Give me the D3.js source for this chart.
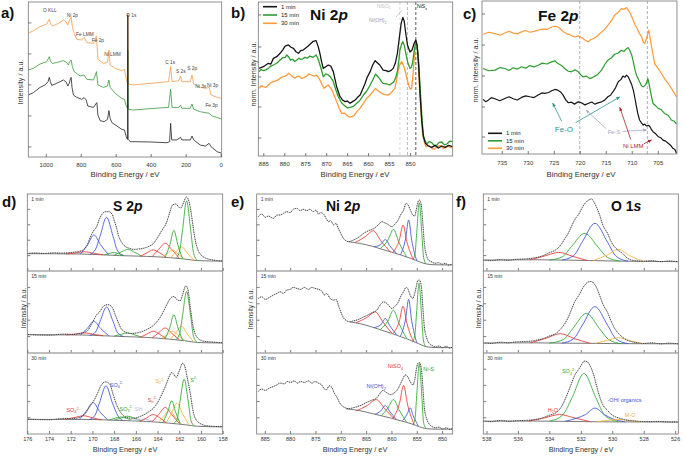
<!DOCTYPE html>
<html><head><meta charset="utf-8">
<script src="https://cdn.jsdelivr.net/npm/d3@7/dist/d3.min.js"></script>
<style>body{margin:0;background:#fff}</style>
</head><body>
<script>
// ---------- data (binding energy eV, normalised intensity) ----------
const surveyBlack = [[1100,40],[1071,41.5],[1033,44.9],[1004,46.5],[987,48.6],[980,51.4],[974,48.6],[966,46.2],[947,47.1],[918,48.6],[899,49.7],[884,48.4],[874,45.8],[866,47.5],[859,50.5],[855,51.4],[850,44.9],[842,40],[823,38.5],[794,37.2],[781,38.3],[769,36.8],[760,32.9],[727,32],[714,34.2],[708,35.1],[702,27.1],[689,23.4],[666,22.8],[647,24.3],[639,29.9],[632,24.9],[622,22.2],[593,20],[565,17.8],[550,17.4],[540,13.1],[533,11.4],[531,91.6],[529,11.4],[517,9.9],[403,9.7],[307,9.2],[292,9.9],[286,21.7],[280,11],[250,11],[229,12.7],[222,11],[174,11],[164,13.5],[154,11],[116,7.7],[87,7.1],[66,8.8],[55,6.7],[20,3.4],[-6,2.4]];
const surveyGreen = [[1100,56.1],[1071,57.2],[1033,60],[995,61.5],[980,64.7],[972,61.5],[961,60.4],[938,60.9],[899,62.2],[880,60.9],[871,59.4],[863,61.5],[855,62.6],[848,58.3],[838,55.1],[804,52.3],[781,52.9],[765,50.1],[727,49.7],[710,55.1],[702,46.5],[670,44.9],[647,45.8],[639,49.7],[632,44.9],[603,41.1],[565,37.8],[550,37.2],[540,32.9],[533,31.4],[531,69],[528,30.8],[498,30.3],[403,31.2],[298,32],[286,43.7],[278,32],[240,32],[229,33.5],[222,31.4],[174,31.4],[164,34.2],[154,30.8],[116,29.2],[66,28.2],[49,26.5],[-6,24.5]];
const surveyOrange = [[1100,79.8],[1071,81.5],[1033,84.1],[995,85.8],[980,88.8],[972,85.8],[961,84.5],[928,86.2],[899,88.4],[884,87.3],[874,85.2],[865,88],[855,90.1],[848,84.1],[838,79.8],[823,75.9],[794,75.5],[781,77.2],[765,73.8],[727,73.3],[710,78.1],[702,63],[670,60.4],[647,60.9],[639,69],[632,59.4],[603,57.2],[565,55.7],[550,56.6],[540,50.8],[533,47.5],[531,92.7],[528,47.1],[498,46.5],[403,47.5],[298,48.6],[286,58.3],[278,48.6],[240,49.2],[229,52.3],[222,48.6],[174,48.6],[164,52.9],[154,47.1],[116,44.9],[87,44.3],[66,44.9],[55,40],[20,38.5],[-6,37.8]];
const surveyPeaks = [["O KLL",1016,93.5],["Ni 2p",880,90.3],["Fe LMM",827,78],["Fe 2p",737,74.2],["Ni LMM",666,65.2],["O 1s",540,90.3],["C 1s",317,60],["S 2s",255,54.2],["S 2p",191,56.1],["Ni 3s",145,44.5],["Ni 3p",78,45.2],["Fe 3p",87,32.3]];

const ni1min = [[886,56.9],[885,58],[884.4,59.1],[883.8,60.2],[883.2,59.7],[882.6,63.4],[881.8,64.5],[881,66.7],[880.4,68.8],[879.8,71.4],[879,72.1],[878.4,70.6],[877.8,69.9],[877.2,67.7],[876.6,66.7],[876.1,68.4],[875.5,68.8],[874.8,70.3],[874.3,71.4],[873.6,73.2],[873.1,74.5],[872.4,74.9],[871.9,71],[871.5,66.7],[871.1,61.3],[870.7,56.9],[870.1,58],[869.5,59.1],[868.9,58.4],[868.3,54.8],[867.5,45],[866.7,38.5],[866.1,36.4],[865.5,35.3],[865,35.7],[864.3,34.2],[863.7,35.3],[863.1,36.4],[862.5,38.1],[861.9,39.6],[861.3,43.3],[860.7,47.2],[860.2,51.1],[859.5,54.8],[858.9,59.1],[858.3,61.9],[857.8,60.6],[857.2,59.1],[856.4,55.8],[855.7,55.4],[855.2,54.8],[854.6,55.4],[854,56.9],[853.5,60.2],[853,66.7],[852.5,77.5],[852.1,86.1],[851.7,90],[851.4,87.9],[851,79.7],[850.6,72.1],[850,67.5],[849.5,68.8],[849,73.2],[848.6,75.3],[848.3,72.1],[847.9,58],[847.6,40.7],[847.2,23.4],[846.8,12.6],[846.3,8.2],[845.6,6.5],[844.8,5.6],[844,6.9],[843.2,5.2],[842.4,6.5],[841.6,5.6],[840.8,6.9],[839.8,6.1]];
const ni15min = [[886,54.8],[885.5,56.2],[885,55.4],[884.4,55.9],[883.8,56.9],[883.2,58.4],[882.6,59.1],[881.8,60.2],[881,62.3],[880.4,63.8],[879.8,64.1],[879.4,65.6],[879,64.5],[878.5,62.3],[878,62.8],[877.5,61.4],[877,62.3],[876.5,63.4],[876.1,62.8],[875.6,63],[875.1,64.1],[874.5,63.5],[873.9,64.9],[873.1,64.1],[872.4,65.6],[872,63.4],[871.6,60.2],[871.1,55.7],[870.7,51.5],[870.1,53.3],[869.5,52.6],[868.9,51.1],[868.3,48.3],[867.7,43],[867.1,38.5],[866.3,34.4],[865.5,32.5],[864.9,31.2],[864.3,31.6],[863.5,32.2],[862.7,34.2],[861.9,36.3],[861.1,39.6],[860.3,42.2],[859.5,46.1],[858.8,49.8],[858.2,53.2],[857.7,51.6],[857.3,50.4],[856.8,48.3],[856.4,47.2],[855.6,46.8],[854.8,46.1],[854.3,47.3],[853.8,48.3],[853.4,51],[853,54.8],[852.7,61],[852.4,68.8],[852,72.5],[851.7,74.2],[851.3,71.5],[851,66.7],[850.5,60.5],[850,56.9],[849.7,57.5],[849.4,60.2],[849,68],[848.6,74.9],[848.3,71.5],[848,64.5],[847.7,50.3],[847.4,36.4],[847.1,23],[846.8,13.6],[846.4,9.8],[846,7.8],[845.4,9.4],[844.8,8.7],[844.2,6.8],[843.6,7.1],[843,8.9],[842.4,9.1],[841.8,7.2],[841.2,7.8],[840.5,9.6],[839.8,9.3]];
const ni30min = [[886,43.9],[885.5,45.7],[885,45],[884.4,44.5],[883.8,46.1],[883.2,47.6],[882.6,48.3],[881.8,48.9],[881,50.4],[880.4,51.5],[879.8,51.9],[879.4,52.3],[879,53.7],[878.5,52.8],[878,51.5],[877.5,50.5],[877,51.5],[876.4,51.9],[875.9,50.4],[875.3,50.9],[874.7,51.9],[874.1,53.3],[873.5,52.6],[872.9,51.8],[872.4,52.6],[871.9,51.3],[871.5,49.4],[871,46.4],[870.5,43.9],[870,45.3],[869.5,46.1],[869.1,44.7],[868.7,43.3],[868.1,39.5],[867.5,35.3],[866.9,31],[866.3,27.7],[865.7,27.9],[865.1,26.6],[864.5,25.2],[863.9,25.5],[863.3,26.4],[862.7,28.8],[861.9,31.1],[861.1,34.2],[860.3,37.5],[859.5,39.6],[858.8,42],[858.2,43.9],[857.5,42.1],[856.8,40.7],[856,39.9],[855.2,39.6],[854.4,41.3],[853.6,43.9],[853.2,49],[852.8,55.8],[852.4,59.3],[852,61.3],[851.6,59.2],[851.2,55.8],[850.7,50],[850.2,45],[849.9,43.4],[849.6,43.9],[849.3,52],[849,62.3],[848.8,69],[848.6,74.2],[848.4,72.5],[848.2,68.8],[847.9,53],[847.6,38.5],[847.3,25.5],[847,14.7],[846.6,9.4],[846.2,6.1],[845.5,6.9],[844.8,5],[844.2,4.4],[843.6,6.1],[842.8,6.8],[842,4.8],[841,6.3],[839.8,5.2]];
const niRefLines = [852.4, 850.6, 848.6];

const fe1min = [[738.6,35.7],[738.1,34.2],[737.6,35.2],[737,36.8],[736.3,36.1],[735.4,34.8],[734.4,36.3],[733.6,37.4],[732.8,36.1],[732,35.3],[731.2,37],[730.4,38],[729.6,37.4],[728.8,36.9],[728,38.5],[727.3,39.9],[726.7,39.6],[726,40.2],[725.4,41.3],[724.8,42.2],[724.2,41.7],[723.7,40.6],[723.2,38.5],[722.7,35.4],[722.2,33.5],[721.6,33.9],[721,32.6],[720.3,34.1],[719.7,33.5],[719,32.1],[718.4,33],[717.7,34],[717.1,32.6],[716.5,33.4],[715.8,34.1],[715.2,35.2],[714.6,37.4],[714.1,38.4],[713.6,40.7],[713.1,43.4],[712.6,47.2],[712.1,48.6],[711.7,50.9],[711.3,50.2],[711,51.5],[710.7,50.6],[710.4,48.3],[710,45.2],[709.7,41.7],[709.4,36.6],[709.1,30.9],[708.8,25.9],[708.5,22.2],[708.1,20.2],[707.8,18.9],[707.5,19.6],[707.2,18.3],[706.8,18.8],[706.5,17.8],[706.2,15.9],[705.9,14.6],[705.4,13.2],[704.9,11.3],[704.4,10.6],[704,9.1],[703.5,8.4],[703,7],[702.5,5.6],[702.1,3.7],[701.7,2.9],[701.4,0.4]];
const fe15min = [[738.6,55.9],[737.5,54.4],[736.3,54.8],[735.3,56.5],[734.4,55.9],[733.6,54.6],[732.8,56.4],[732,55.5],[731.2,57],[730.4,56.1],[729.6,57.8],[728.8,56.9],[728,58],[727.2,59.4],[726.3,58.8],[725.4,60.2],[724.8,60.9],[724.2,59.1],[723.5,57.9],[722.9,55.9],[722.2,54.1],[721.6,53.7],[720.9,55],[720.3,53.7],[719.8,51.8],[719.4,50.4],[718.7,50.9],[718.1,49.3],[717.6,49.9],[717.1,50.9],[716.5,52.2],[715.8,54.8],[715.2,58.5],[714.6,61.3],[713.9,62.9],[713.3,65.2],[712.6,66],[712,67.8],[711.5,67],[711,68.9],[710.7,69.5],[710.4,67.8],[710,64.6],[709.7,60.2],[709.4,55.4],[709.1,51.5],[708.8,49.6],[708.5,47.2],[708.1,44.5],[707.8,43.9],[707.5,44.7],[707.2,46.1],[706.9,49.3],[706.7,46.2],[706.5,42.8],[706.2,37.4],[705.9,33],[705.4,31.5],[704.9,29.8],[704.3,28.9],[703.7,26.5],[703,25.3],[702.4,22.2],[701.9,21.6],[701.4,19.6]];
const fe30min = [[738.6,78.3],[737.5,79.6],[736.3,78.7],[735.3,77.6],[734.4,79.1],[733.6,80.2],[732.8,79],[732,78.5],[731.2,79.8],[730.4,80.7],[729.6,79.6],[728.8,80.2],[728,80.9],[727.2,81.6],[726.3,81.4],[725.4,83],[724.8,83.5],[724.3,83.2],[723.8,82],[723.2,80.1],[722.6,78.7],[721.8,77.8],[721,76.5],[720.3,77.2],[719.7,76.1],[719,74.5],[718.4,73.3],[717.9,74.8],[717.4,75.4],[716.6,77.1],[715.8,79.8],[715.2,81.5],[714.6,84.1],[713.9,87.2],[713.3,90.7],[712.6,92.6],[712,95],[711.5,94.5],[711,95.7],[710.7,94.1],[710.4,92.8],[710,89.7],[709.7,87.4],[709.4,84.6],[709.1,83],[708.6,79.3],[708.1,76.5],[707.8,73.2],[707.5,72.2],[707.2,75.2],[707,77.6],[706.7,80.9],[706.5,76.3],[706.3,72.2],[705.9,65],[705.6,59.1],[705,56.3],[704.3,52.6],[703.6,48.8],[703,46.1],[702.2,42.1],[701.4,37.4]];
const feRefLines = [720, 707];

// S 2p fits
const s2p1Data = [[176,22.9],[175.2,23.3],[174.4,22.8],[173.6,23.6],[172.8,23.2],[172,24],[171.4,25],[170.9,27],[170.5,33],[170.2,44],[169.9,52],[169.6,58],[169.4,66],[169.1,74],[168.8,77],[168.5,77],[168.2,74],[168,66],[167.8,57],[167.6,46],[167.3,37],[167,32],[166.6,29.5],[166.2,28],[165.8,28.5],[165.3,29.5],[164.8,32],[164.4,35.5],[164.1,41],[163.8,48],[163.5,55],[163.2,62],[162.9,75],[162.6,86],[162.3,87],[162.05,83],[161.85,82],[161.6,89],[161.35,96],[161.1,90],[160.9,75],[160.7,55],[160.5,38],[160.3,28],[160,21],[159.6,17],[159,14.5],[158.5,13.5],[158,13]];
const s2p1Bg = [[176,22.5],[171,22],[169,21],[167.5,20],[165,19],[163,17.5],[161.5,15.5],[160.3,13.5],[158,12.8]];
const s2p1Peaks = [
 ["SO4b",[[172.4,22.2],[171.5,23.5],[170.7,25],[169.9,23],[169,21]]],
 ["SO4a",[[171.1,22],[170.45,34],[169.86,46.8],[169.25,34],[168.5,20.8]]],
 ["SO4a",[[170.25,21.4],[169.72,28],[169.3,45],[168.7,69.7],[168.1,45],[167.68,26],[167.15,20]]],
 ["SO3",[[168.9,21],[168.4,23],[168,24],[167.6,22.5],[167.1,20.2]]],
 ["SO3",[[168,20.7],[167.3,25],[166.75,28],[166.2,25],[165.5,19.6]]],
 ["Sn",[[165.6,19.1],[165,23.5],[164.4,27.3],[163.8,23.5],[163.2,17.8]]],
 ["Sn",[[164.5,18.6],[163.9,28],[163.3,36],[162.7,28],[162,16.6]]],
 ["S2",[[163.6,18],[163.1,23],[162.6,27],[162.1,22],[161.5,15.5]]],
 ["S2",[[162.8,17.2],[162.3,25],[161.8,31.6],[161.3,24],[160.7,14.5]]],
 ["S",[[163.3,17.8],[162.85,35],[162.5,53],[162.15,35],[161.7,16]]],
 ["S",[[162.3,16.7],[161.97,26],[161.7,53],[161.33,91],[160.95,53],[160.69,24],[160.35,13.8]]]];
const s2p2Data = [[175.9,22.6],[175,22],[173.9,21.8],[173,22.8],[172.4,23],[171.8,22.6],[171.2,23.8],[170.5,26.6],[170.1,34.7],[169.6,46.8],[169.3,50.8],[169,56.9],[168.6,58.9],[168.2,56],[167.9,46.8],[167.6,36.7],[167.3,28.6],[166.5,23.8],[165.6,25.4],[165,28.6],[164.4,33.5],[163.8,42.7],[163.3,54.8],[163,62.9],[162.7,68.1],[162.5,69],[162.2,64.9],[161.9,63.7],[161.7,71],[161.4,81.9],[161.2,77],[161,56.9],[160.7,30.6],[160.4,19.8],[159.8,14.5],[158.9,13.3],[158,12.5]];
const s2p2Bg = [[176,22.3],[171,22],[169,21],[167,20],[165,19],[163,17],[161.5,15],[160.3,12.8],[158,12.2]];
const s2p2Peaks = [
 ["SO4b",[[172.4,22.1],[171.5,23.2],[170.7,24.6],[169.9,22.8],[169,21]]],
 ["SO4a",[[171.1,22],[170.45,30.3],[169.86,38.7],[169.25,30],[168.5,21]]],
 ["SO4a",[[170.25,21.2],[169.72,25.5],[169.3,38.5],[168.7,56],[168.1,38.5],[167.68,24.5],[167.15,20.2]]],
 ["SO3",[[168,20.6],[167.3,23],[166.75,24.5],[166.2,22.5],[165.5,19.5]]],
 ["Sn",[[165.6,19],[165,23],[164.4,26.6],[163.8,22.8],[163.2,17.5]]],
 ["Sn",[[164.5,18.4],[163.9,24.5],[163.3,30.6],[162.7,24],[162,16.3]]],
 ["S2",[[163.6,17.8],[163.1,22],[162.6,26.6],[162.1,21.5],[161.5,15.5]]],
 ["S2",[[162.8,17],[162.3,25],[161.8,32.7],[161.3,24],[160.7,14]]],
 ["S",[[163.3,17.5],[162.85,32],[162.5,46.8],[162.15,32],[161.7,15.7]]],
 ["S",[[162.3,16.3],[161.97,23.5],[161.7,45.5],[161.33,75],[160.95,45],[160.69,20.5],[160.35,13]]]];
const s2p3Data = [[175.9,18.4],[175,17.8],[173.9,17.6],[173,18.8],[172.4,19.3],[171.8,18.9],[171.2,20.5],[170.7,24.6],[170.2,34.8],[169.8,43],[169.5,51.2],[169.2,60.2],[168.8,64.3],[168.4,61.5],[168.1,49.2],[167.8,36.9],[167.4,26.6],[166.9,20.5],[166.2,19.3],[165.6,21.7],[164.9,26.6],[164.2,34.8],[163.6,49.2],[163.2,61.5],[162.9,71.7],[162.7,75.8],[162.5,73.8],[162.3,69.7],[162,77.9],[161.7,87.3],[161.5,84],[161.3,71.7],[161,51.2],[160.7,26.6],[160.3,15.2],[159.5,10.2],[158.8,9.4],[158,9]];
const s2p3Bg = [[176,18],[171,18],[169,17.5],[167,16.5],[165,15.5],[163,13.5],[161.5,11.5],[160.3,9.5],[158,8.8]];
const s2p3Peaks = [
 ["SO4b",[[172.5,18],[171.6,20.5],[170.8,22.5],[170,20],[169.2,17.5]]],
 ["SO4a",[[171.2,18],[170.55,28.5],[169.95,38.9],[169.35,28],[168.6,17.5]]],
 ["SO4a",[[170.3,17.7],[169.77,23],[169.35,38.5],[168.75,59.4],[168.15,38],[167.63,22],[167.2,16.8]]],
 ["SO3",[[168.5,17],[167.9,19.5],[167.4,21],[166.9,19.5],[166.3,16.5]]],
 ["SO3",[[168,17],[167.3,20],[166.8,22],[166.2,20],[165.5,16.2]]],
 ["SH",[[166.5,16.5],[165.9,17.8],[165.4,18.6],[164.9,17.5],[164.3,15.5]]],
 ["Sn",[[165.6,15.5],[165,20],[164.4,24],[163.8,20],[163.2,14]]],
 ["Sn",[[164.5,15],[163.9,24],[163.3,32.8],[162.7,24],[162,13]]],
 ["S2",[[163.9,14.5],[163.4,22],[162.9,30],[162.4,21],[161.8,12.5]]],
 ["S2",[[163.2,13.8],[162.7,26],[162.2,38],[161.7,25],[161.1,11]]],
 ["S",[[163.5,14.2],[163.05,28],[162.7,41],[162.35,27.5],[161.9,12.3]]],
 ["S",[[162.5,13.2],[162.19,18.5],[161.93,40.5],[161.55,67.6],[161.17,39.5],[160.91,16],[160.6,10]]]];
const s2pNames = [["SO4b",172.4,27.5],["SO4a",168.4,58.4],["SO3",167.5,28.8],["SH",166.1,28.8],["Sn",164.9,39.9],["S2",164.2,63.3],["S",161,64.6]];

// Ni 2p fits
const ni2p1Data = [[886.3,70.6],[885.6,74],[884.9,69.7],[884.3,71.4],[883.3,68.4],[882.6,72.7],[882,72.7],[881.3,74.9],[880.7,77.1],[880,75.8],[879.4,80.1],[878.7,81.4],[878,78.4],[877.4,80.1],[876.7,78.4],[876.1,80.1],[875.4,77.1],[874.9,79.2],[874.4,74],[874,75.8],[873.4,74],[872.9,68.4],[872.4,64.1],[872,65.4],[871.4,59.7],[870.9,61.9],[870.5,55.4],[870,48.9],[869.5,42.4],[869,39.4],[868.4,38.1],[867.8,39.4],[867.2,41.1],[866.3,44.6],[865.5,48.9],[864.9,51.1],[864.2,53.2],[863.4,55.4],[862.6,59.7],[861.9,64.1],[861.4,62.8],[860.8,61],[859.9,57.6],[859.3,61],[858.6,67.1],[858.2,72.7],[857.6,79.2],[857.1,87.9],[856.7,85.7],[856.3,80.1],[855.8,72.7],[855.4,71.4],[855.1,79.2],[854.8,88.7],[854.5,92.2],[854.1,85.7],[853.8,61.9],[853.5,35.9],[853.1,20.8],[852.7,14.3],[852,11.7],[851.4,10],[850.7,10.8],[850,8.7],[849.4,10],[848.7,7.8],[847.9,9.1]];
const ni2p1Bg = [[868.5,38],[866,35.5],[864,32.5],[862,28.5],[860,24.5],[858,20.5],[856,16],[854.5,12],[853,9],[851,8],[848,7.8]];
const ni2p1Peaks = [
 ["NiSO4",[[867.2,37],[865.1,44.8],[863.6,52.4],[862.1,39.2],[860.2,24.5]]],
 ["NiOH",[[863.4,31.5],[862.1,34.5],[861.2,41],[860.3,32.5],[859,23]]],
 ["NiS",[[862.2,29],[860.7,40],[859.6,54],[858.5,37],[857,18.5]]],
 ["NiSO4",[[859.7,24.5],[858.45,40],[857.7,59.7],[856.95,38],[855.7,15.3]]],
 ["NiOH",[[858.2,21],[857.2,42],[856.6,66.2],[856,40],[855,13.3]]],
 ["NiS",[[855.8,14.7],[855.35,22],[855,50],[854.5,88.7],[854,49],[853.65,18],[853.2,9.3]]]];
const ni2p2Data = [[886.3,66.5],[885.6,68.6],[884.9,65.3],[884.1,67.8],[883.3,70.6],[882.6,72.7],[882,74.7],[881.3,72.7],[880.7,76.7],[880,77.6],[879.4,80],[878.7,78.8],[877.9,77.6],[877.2,80],[876.4,77.6],[875.7,80],[875.1,78.8],[874.4,77.6],[873.8,75.9],[873.2,70.6],[872.8,72.7],[872.1,66.5],[871.4,64.5],[870.9,65.3],[870.5,58.4],[870,50.2],[869.5,43.3],[868.8,39.2],[868.2,38],[867.5,39.2],[866.5,40.8],[865.5,44.1],[864.7,46.1],[863.9,49],[862.9,52.2],[862.1,59.6],[861.6,62.4],[860.9,60.4],[859.9,54.3],[859.3,57.1],[858.6,62.4],[858.2,68.6],[857.6,74.7],[857.1,80],[856.7,77.6],[856.3,70.6],[855.8,66.5],[855.4,72.7],[855.1,80.8],[854.8,88.2],[854.5,89],[854.1,81.6],[853.8,56.3],[853.5,31.8],[853,17.6],[852.5,11.4],[851.9,9],[851.2,7.3],[850.6,8.6],[849.9,6.5],[849.2,8.2],[848.5,6.1],[847.9,7.3]];
const ni2p2Bg = [[868.2,38],[866,35.5],[864,32],[862,28],[860,24],[858,19.5],[856,15],[854.5,11],[853,7.5],[851,6.6],[848,6.5]];
const ni2p2Peaks = [
 ["NiSO4",[[867,36.8],[864.8,43.5],[863.2,50.2],[861.7,38],[859.9,23.8]]],
 ["NiOH",[[863.4,31],[862.1,34.5],[861.2,42],[860.3,33],[859,22.5]]],
 ["NiS",[[862.2,28.5],[860.7,39],[859.6,52.2],[858.5,36],[857,18]]],
 ["NiSO4",[[859.7,24],[858.45,38.5],[857.7,57],[856.95,36.5],[855.7,14.3]]],
 ["NiOH",[[858.2,20.5],[857.2,41.5],[856.6,65.3],[856,39.5],[855,12.4]]],
 ["NiS",[[855.85,13.8],[855.4,20.5],[855.05,47.5],[854.55,85],[854.05,46],[853.7,16.5],[853.25,8]]]];
const ni2p3Data = [[886.3,52.6],[885.6,55.5],[884.9,53.8],[884.1,56.7],[883.3,58.7],[882.6,60.7],[882,62.8],[881.2,61.9],[880.5,64.8],[879.9,63.6],[879.2,65.6],[878.6,62.8],[877.9,64.8],[877.2,63.6],[876.4,65.6],[875.7,62.8],[875.1,64.8],[874.4,62.8],[873.8,60.7],[873.2,55.5],[872.8,54.7],[872.3,59.5],[871.8,57.9],[871.3,50.6],[870.8,45.7],[870.3,39.3],[869.8,35.2],[869.1,32.4],[868.5,31.2],[867.8,32],[866.8,33.6],[865.8,36],[864.8,39.3],[863.9,41.7],[862.9,44.5],[862.2,50.6],[861.7,53.8],[861,51.4],[860.2,48.6],[859.5,50.6],[858.8,54.7],[858.3,60.7],[857.7,68.8],[857.3,72.9],[856.8,70.9],[856.3,64.8],[855.8,60.7],[855.4,66.8],[855.1,78.9],[854.8,87],[854.5,88.3],[854.1,81],[853.8,58.7],[853.5,32.4],[853,18.2],[852.5,12.1],[851.9,8.9],[851.2,7.7],[850.6,8.5],[849.9,6.1],[849.2,7.7],[848.5,5.7],[847.9,6.9]];
const ni2p3Bg = [[869,31.2],[866,28.5],[864,25.5],[862,22.5],[860,19.5],[858,16],[856,12.5],[854.5,9],[853,6.5],[851,6],[848,6]];
const ni2p3Peaks = [
 ["NiSO4",[[867,28.5],[864.8,35],[863,42.5],[861.3,31],[859.5,19]]],
 ["NiOH",[[863.2,24.5],[862.1,28.5],[861.2,35.2],[860.3,27.5],[859,18]]],
 ["NiS",[[862,22.5],[860.7,32],[859.6,42.5],[858.5,30],[857,14.5]]],
 ["NiSO4",[[859.7,19.2],[858.4,38],[857.6,60],[856.8,36],[855.5,11.5]]],
 ["NiOH",[[857.8,16.5],[856.9,24.5],[856.3,32.4],[855.7,22.5],[854.7,10]]],
 ["NiS",[[855.8,11.3],[855.35,18.5],[855,48],[854.5,87],[854,47],[853.65,14.5],[853.2,7]]]];
const ni2pNames = [["NiOH",864.9,56.4],["NiSO4",860.7,81.1],["NiS",853.7,78.1]];

// O 1s fits
const o1s1Data = [[538.2,14.3],[537.7,13.4],[537.1,14.7],[536.6,13.9],[536.1,15.2],[535.5,15.6],[535,16.9],[534.6,18.6],[534.3,20.8],[534,23.8],[533.6,27.3],[533.4,30.7],[533.2,35.9],[533,42.4],[532.8,48.9],[532.6,57.6],[532.4,66.2],[532.1,74.9],[531.9,82.7],[531.7,88.7],[531.5,92.2],[531.3,93.5],[531.2,90.9],[531,82.7],[530.8,72.7],[530.6,59.7],[530.3,48.9],[530.1,39.4],[529.9,32.5],[529.7,28.1],[529.5,25.1],[529.3,22.1],[529.1,17.7],[528.8,14.3],[528.4,13],[528,12.6],[527.5,13.4],[526.9,12.1],[526.4,13],[525.8,12.1]];
const o1s1Bg = [[538.2,14.2],[535,14.6],[533,14.2],[531.5,13.6],[530,13],[528,12.5],[525.8,12.1]];
const o1s1Peaks = [
 ["H2O",[[535.2,14.6],[534.3,19.5],[533.4,24.2],[532.5,19],[531.6,13.7]]],
 ["SO4",[[534,14.3],[533.2,18],[532.6,31.5],[531.75,48.9],[530.9,31],[530.3,17.5],[529.5,12.9]]],
 ["OH",[[533.2,14.2],[532.45,20],[531.9,38],[531.1,61.9],[530.3,37.5],[529.75,19],[529,12.7]]],
 ["MO",[[531.2,13.6],[530.3,21],[529.6,28.1],[528.9,20],[528,12.5]]]];
const o1s2Data = [[538.2,12.4],[537.7,11.6],[537.1,13.2],[536.6,12.4],[536.1,13.6],[535.5,14],[535,14.9],[534.6,16.5],[534.3,18.2],[534,20.7],[533.6,23.6],[533.4,26.9],[533.2,31],[533,36.4],[532.8,43.4],[532.6,52.5],[532.4,62],[532.1,71.1],[531.9,78.5],[531.7,83.9],[531.5,86.8],[531.3,87.2],[531.2,85.5],[531,79.8],[530.8,70.2],[530.6,59.9],[530.3,49.6],[530.1,40.1],[529.9,31.8],[529.7,26],[529.5,21.9],[529.3,18.6],[529.1,16.1],[528.8,14],[528.4,12.4],[528,11.6],[527.5,12.4],[526.9,11.2],[526.4,12],[525.8,11.2]];
const o1s2Bg = [[538.2,12.2],[535,12.4],[533,12],[531.5,11.8],[530,11.5],[528,11.3],[525.8,11.2]];
const o1s2Peaks = [
 ["H2O",[[535.2,12.4],[534.2,18],[533.3,23.6],[532.4,17.5],[531.4,11.8]]],
 ["SO4",[[534,12.1],[533.1,16.5],[532.5,30],[531.65,48.3],[530.8,29.5],[530.2,16],[529.4,11.4]]],
 ["OH",[[533.2,12],[532.45,17.5],[531.9,34],[531.1,56.6],[530.3,34],[529.75,17],[529,11.4]]],
 ["MO",[[531.1,11.7],[530.3,15.5],[529.6,18.6],[528.9,15],[528,11.3]]]];
const o1s3Data = [[538.2,16],[537.7,15.2],[537.1,16.8],[536.6,15.6],[536.1,16.4],[535.5,16.8],[535,17.6],[534.6,18.8],[534.3,20.8],[534,23.2],[533.6,26],[533.4,29.2],[533.2,34.8],[533,42.8],[532.8,52],[532.6,62],[532.4,72],[532.1,80.8],[531.9,87.2],[531.8,90],[531.6,89.2],[531.4,84],[531.2,74],[531,60],[530.8,46],[530.6,36],[530.3,29.2],[530.1,24.8],[529.8,21.2],[529.5,19.2],[529.2,17.6],[528.8,16.4],[528.3,15.6],[527.7,15.2],[527.1,15.6],[526.4,14.8],[525.8,14.8]];
const o1s3Bg = [[538.2,15.8],[535,16],[533,15.6],[531.5,15.2],[530,15],[528,14.9],[525.8,14.8]];
const o1s3Peaks = [
 ["H2O",[[535.3,16],[534.3,20],[533.35,24],[532.4,19.8],[531.4,15.2]]],
 ["SO4",[[534,15.8],[533.15,23.5],[532.55,45],[531.8,74.8],[531.05,45],[530.45,22.5],[529.6,15]]],
 ["OH",[[533,15.6],[532.2,20],[531.7,24],[531.1,32],[530.5,24],[530,19],[529.2,15]]],
 ["MO",[[531,15.1],[530.3,16.8],[529.6,18],[528.9,16.6],[528.1,14.9]]]];
const o1sNames = [["SO4",533.2,75],["OH",530.3,39.9],["H2O",534.1,27.5],["MO",529.2,21.4]];

const times = ["1 min", "15 min", "30 min"];
const ticksSurvey = [1000, 800, 600, 400, 200, 0];
const ticksNi = [885, 880, 875, 870, 865, 860, 855, 850];
const ticksFe = [735, 730, 725, 720, 715, 710, 705];
const ticksS = [176, 174, 172, 170, 168, 166, 164, 162, 160, 158];
const ticksO = [538, 536, 534, 532, 530, 528, 526];

// ---------- styling ----------
const FONT = "'Liberation Sans', Arial, sans-serif";
const timeColor = ["#151515", "#2e9c2e", "#ff9a3a"];
const blue = "#3c50d4", red = "#e8372f", green = "#2ea62e", orng = "#f4b03c", lav = "#b6bde8";
const speciesColor = {SO4a: blue, SO4b: red, SO3: green, SH: lav, Sn: red, S2: orng, S: green,
  NiSO4: red, NiOH: blue, NiS: green, H2O: red, SO4: green, OH: blue, MO: orng};
const speciesLabel = {
  SO4b: ["SO", ["4","sub"], ["2-","sup"]], SO4a: ["SO", ["4","sub"], ["2-","sup"]],
  SO3: ["SO", ["3","sub"], ["2-","sup"]], SH: ["SH"], Sn: ["S", ["n","sub"], ["2-","sup"]],
  S2: ["S", ["2","sub"], ["2-","sup"]], S: ["S", ["2-","sup"]],
  NiOH: ["Ni(OH)", ["2","sub"]], NiSO4: ["NiSO", ["4","sub"]], NiS: ["Ni-S"],
  SO4: ["SO", ["4","sub"], ["2-","sup"]], OH: ["-OH/ organics"], H2O: ["H", ["2","sub"], "O"], MO: ["M-O"]};

const svg = d3.select("body").append("svg").attr("width", 685).attr("height", 456)
  .style("font-family", FONT);
const defs = svg.append("defs");
let clipN = 0;

function rich(g, x, y, parts, size, color, opts) {
  opts = opts || {};
  const t = g.append("text").attr("x", x).attr("y", y).attr("font-size", size).attr("fill", color)
    .attr("text-anchor", opts.anchor || "start").attr("font-weight", opts.bold ? "bold" : null);
  let off = 0;
  parts.forEach(p => {
    const s = typeof p === "string" ? p : p[0], k = typeof p === "string" ? "n" : p[1];
    const target = k === "sub" ? 0.3 * size : k === "sup" ? -0.4 * size : 0;
    const ts = t.append("tspan").text(s);
    if (target - off !== 0) ts.attr("dy", target - off);
    if (k === "sub" || k === "sup") ts.attr("font-size", size * 0.68);
    if (k === "i") ts.attr("font-style", "italic");
    off = target;
  });
  return t;
}

function plotArea(x0, x1, y0, y1, xDom, yDom) {
  const id = "clip" + (clipN++);
  defs.append("clipPath").attr("id", id).append("rect")
    .attr("x", x0).attr("y", y0).attr("width", x1 - x0).attr("height", y1 - y0);
  return {
    x: d3.scaleLinear().domain(xDom).range([x0, x1]),
    y: d3.scaleLinear().domain(yDom || [0, 100]).range([y1, y0]),
    g: svg.append("g").attr("clip-path", "url(#" + id + ")"),
    x0, x1, y0, y1
  };
}

function path(p, data, color, w, curve, dash) {
  p.g.append("path").datum(data).attr("fill", "none").attr("stroke", color).attr("stroke-width", w)
    .attr("stroke-dasharray", dash || null).attr("stroke-linejoin", "round")
    .attr("d", d3.line().x(d => p.x(d[0])).y(d => p.y(d[1])).curve(curve || d3.curveLinear));
}

function xAxis(p, ticks, size, pad, showLabels) {
  const ax = svg.append("g").attr("transform", "translate(0," + p.y1 + ")")
    .call(d3.axisBottom(p.x).tickValues(ticks).tickSize(-3).tickPadding(pad)
      .tickFormat(showLabels ? d3.format("d") : () => ""));
  ax.select(".domain").remove();
  ax.selectAll("line").attr("stroke", "#444").attr("stroke-width", 0.7);
  ax.selectAll("text").attr("font-size", size).attr("fill", "#333").attr("font-family", FONT);
}

function yTicks(p, vals) {
  svg.append("g").selectAll("line").data(vals).join("line")
    .attr("x1", p.x0).attr("x2", p.x0 + 3).attr("y1", d => p.y(d)).attr("y2", d => p.y(d))
    .attr("stroke", "#444").attr("stroke-width", 0.7);
}

function frame(p, color) {
  svg.append("rect").attr("x", p.x0).attr("y", p.y0).attr("width", p.x1 - p.x0).attr("height", p.y1 - p.y0)
    .attr("fill", "none").attr("stroke", color || "#777").attr("stroke-width", 0.8);
}

function yTitle(x, y, str, size) {
  svg.append("text").attr("transform", "translate(" + x + "," + y + ") rotate(-90)")
    .attr("text-anchor", "middle").attr("font-size", size).attr("fill", "#333").text(str);
}
function xTitle(x, y, size) {
  svg.append("text").attr("x", x).attr("y", y).attr("text-anchor", "middle")
    .attr("font-size", size).attr("fill", "#333").text("Binding Energy / eV");
}
function letter(x, y, s) {
  svg.append("text").attr("x", x).attr("y", y).attr("font-size", 15).attr("font-weight", "bold")
    .attr("fill", "#111").text(s);
}
function title(x, y, parts, size) {
  rich(svg, x, y, parts, size, "#111", {bold: true});
}

function arrowMarker(id, color) {
  defs.append("marker").attr("id", id).attr("viewBox", "0 0 10 10").attr("refX", 9).attr("refY", 5)
    .attr("markerWidth", 5).attr("markerHeight", 5).attr("orient", "auto")
    .append("path").attr("d", "M0,1L10,5L0,9z").attr("fill", color);
}
function arrow(p, a, b, color, id) {
  svg.append("line").attr("x1", p.x(a[0])).attr("y1", p.y(a[1])).attr("x2", p.x(b[0])).attr("y2", p.y(b[1]))
    .attr("stroke", color).attr("stroke-width", 0.8).attr("marker-end", "url(#" + id + ")");
}

// ---------- a) survey ----------
const pa = plotArea(28.3, 221.7, 2, 157, [1100, -6]);
path(pa, surveyOrange, "#f59a48", 0.8);
path(pa, surveyGreen, "#3a9a3a", 0.8);
path(pa, surveyBlack, "#222", 0.8);
surveyPeaks.forEach(d => svg.append("text").attr("x", pa.x(d[1])).attr("y", pa.y(d[2]))
  .attr("font-size", 4.8).attr("fill", "#444").text(d[0]));
frame(pa);
xAxis(pa, ticksSurvey, 6, 6.2, true);
yTicks(pa, [6.5, 26.5, 46.5, 66.5, 86.5]);
yTitle(23, 82, "Intensity / a.u.", 7.2);
xTitle(125, 177, 7.8);
letter(1, 18, "a)");

// ---------- b) Ni 2p ----------
const pb = plotArea(258.3, 452.7, 2, 156, [886.2, 839.8]);
const refCol = ["#cfcfcf", "#a8a8a8", "#333"];
niRefLines.forEach((e, i) => pb.g.append("line").attr("x1", pb.x(e)).attr("x2", pb.x(e))
  .attr("y1", pb.y0).attr("y2", pb.y1).attr("stroke", refCol[i]).attr("stroke-width", 0.8)
  .attr("stroke-dasharray", "3,2"));
path(pb, ni30min, timeColor[2], 1.3);
path(pb, ni15min, timeColor[1], 1.3);
path(pb, ni1min, timeColor[0], 1.3);
rich(svg, pb.x(857.9), pb.y(96.4), ["NiSO", ["4","sub"]], 5, "#c4c4c4");
rich(svg, pb.x(859.8), pb.y(87), ["Ni(OH)", ["2","sub"]], 5, "#999");
rich(svg, pb.x(848.3), pb.y(96.1), ["NiS", ["x","sub"]], 5, "#111");
svg.append("line").attr("x1", pb.x(853.3)).attr("y1", pb.y(90.3)).attr("x2", pb.x(851.9)).attr("y2", pb.y(94.8))
  .attr("stroke", "#aaa").attr("stroke-width", 0.6);
frame(pb);
xAxis(pb, ticksNi, 6, 6.2, true);
yTicks(pb, [11.7, 31.8, 51.3, 70.8, 91.6]);
yTitle(256, 74, "norm. Intensity / a.u.", 7.2);
xTitle(355, 177, 7.8);
letter(231, 18, "b)");
title(310, 19.5, ["Ni 2", ["p", "i"]], 15.5);
times.forEach((t, i) => {
  const yy = 6.7 + i * 8.3;
  svg.append("line").attr("x1", 263).attr("x2", 277).attr("y1", yy).attr("y2", yy)
    .attr("stroke", timeColor[i]).attr("stroke-width", 1.6);
  svg.append("text").attr("x", 281).attr("y", yy + 2.1).attr("font-size", 6).attr("fill", "#222").text(t);
});

// ---------- c) Fe 2p ----------
const pc = plotArea(482, 677, 1, 154, [738.8, 701.3]);
feRefLines.forEach(e => pc.g.append("line").attr("x1", pc.x(e)).attr("x2", pc.x(e))
  .attr("y1", pc.y0).attr("y2", pc.y1).attr("stroke", "#9a9ab0").attr("stroke-width", 0.8)
  .attr("stroke-dasharray", "3,2"));
path(pc, fe30min, timeColor[2], 1.2);
path(pc, fe15min, timeColor[1], 1.2);
path(pc, fe1min, timeColor[0], 1.2);
const teal = "#2f9484", gl = "#a7a7c8", dr = "#a82424";
arrowMarker("mTeal", teal); arrowMarker("mLav", gl); arrowMarker("mRed", dr);
arrow(pc, [723.5, 21.5], [725.2, 33.3], teal, "mTeal");
arrow(pc, [720.8, 20.5], [712.3, 37.3], teal, "mTeal");
arrow(pc, [714.9, 16.5], [718.8, 28.8], gl, "mLav");
arrow(pc, [711.8, 14.8], [707.1, 15.7], gl, "mLav");
arrow(pc, [710.2, 9.5], [712.3, 30.5], dr, "mRed");
arrow(pc, [707.7, 6.6], [706.2, 9.2], dr, "mRed");
svg.append("text").attr("x", pc.x(724.8)).attr("y", pc.y(14.5)).attr("font-size", 8).attr("fill", teal).text("Fe-O");
svg.append("text").attr("x", pc.x(714.6)).attr("y", pc.y(13)).attr("font-size", 5.8).attr("fill", gl).text("Fe-S");
svg.append("text").attr("x", pc.x(711.7)).attr("y", pc.y(4.2)).attr("font-size", 6).attr("fill", dr).text("Ni LMM");
frame(pc);
xAxis(pc, ticksFe, 6, 6.8, true);
yTicks(pc, [11.1, 30.7, 51, 71.2, 91.5]);
yTitle(478, 70, "norm. Intensity / a.u.", 7.2);
xTitle(581, 177, 7.8);
letter(463, 19, "c)");
title(538, 20.5, ["Fe 2", ["p", "i"]], 15.5);
times.forEach((t, i) => {
  const yy = 133.3 + i * 7.5;
  svg.append("line").attr("x1", 488).attr("x2", 502).attr("y1", yy).attr("y2", yy)
    .attr("stroke", timeColor[i]).attr("stroke-width", 1.6);
  svg.append("text").attr("x", 506).attr("y", yy + 2.1).attr("font-size", 6).attr("fill", "#222").text(t);
});

// ---------- d) e) f) fitted spectra ----------
const subY = [[194, 271], [271, 353], [353, 434]];
function fitPanel(x0, x1, xDom, ticks, subs, names) {
  const ps = subs.map((s, i) => {
    const p = plotArea(x0, x1, subY[i][0], subY[i][1], xDom);
    path(p, s[1], "#555", 0.8, d3.curveMonotoneX);
    s[2].forEach(c => path(p, c[1], speciesColor[c[0]], 0.85, d3.curveMonotoneX));
    path(p, s[0], "#8c8c8c", 0.6, d3.curveMonotoneX);
    path(p, s[0], "#1a1a1a", 1.0, d3.curveMonotoneX, "0.7,1.6");
    svg.append("text").attr("x", x0 + 4).attr("y", subY[i][0] + 7).attr("font-size", 5)
      .attr("fill", "#333").text(times[i]);
    xAxis(p, ticks, 5.5, 2.6, i === 2);
    yTicks(p, [20, 40, 60, 80]);
    return p;
  });
  [271, 353].forEach(yy => svg.append("line").attr("x1", x0).attr("x2", x1).attr("y1", yy).attr("y2", yy)
    .attr("stroke", "#aaa").attr("stroke-width", 1.6));
  svg.append("rect").attr("x", x0).attr("y", 194).attr("width", x1 - x0).attr("height", 240)
    .attr("fill", "none").attr("stroke", "#777").attr("stroke-width", 0.8);
  const p3 = ps[2];
  names.forEach(n => rich(svg, p3.x(n[1]), p3.y(n[2]), speciesLabel[n[0]], 5.5, speciesColor[n[0]]));
  return ps;
}

fitPanel(27.3, 222.7, [176, 158], ticksS,
  [[s2p1Data, s2p1Bg, s2p1Peaks], [s2p2Data, s2p2Bg, s2p2Peaks], [s2p3Data, s2p3Bg, s2p3Peaks]], s2pNames);
yTitle(26, 308, "Intensity / a.u.", 6.5);
xTitle(125, 452, 7.3);
letter(2, 207, "d)");
title(113, 211, ["S 2", ["p", "i"]], 14);

fitPanel(256.7, 452.7, [886.6, 847.9], ticksNi,
  [[ni2p1Data, ni2p1Bg, ni2p1Peaks], [ni2p2Data, ni2p2Bg, ni2p2Peaks], [ni2p3Data, ni2p3Bg, ni2p3Peaks]], ni2pNames);
yTitle(253, 309, "Intensity / a.u.", 6.5);
xTitle(355, 452, 7.3);
letter(231, 207, "e)");
title(326, 211, ["Ni 2", ["p", "i"]], 14);

fitPanel(483.3, 678.3, [538.2, 525.8], ticksO,
  [[o1s1Data, o1s1Bg, o1s1Peaks], [o1s2Data, o1s2Bg, o1s2Peaks], [o1s3Data, o1s3Bg, o1s3Peaks]], o1sNames);
yTitle(481, 308, "Intensity / a.u.", 6.5);
xTitle(581, 452, 7.3);
letter(456, 207, "f)");
title(611, 211, ["O 1", ["s", "i"]], 14);
</script>
</body></html>
